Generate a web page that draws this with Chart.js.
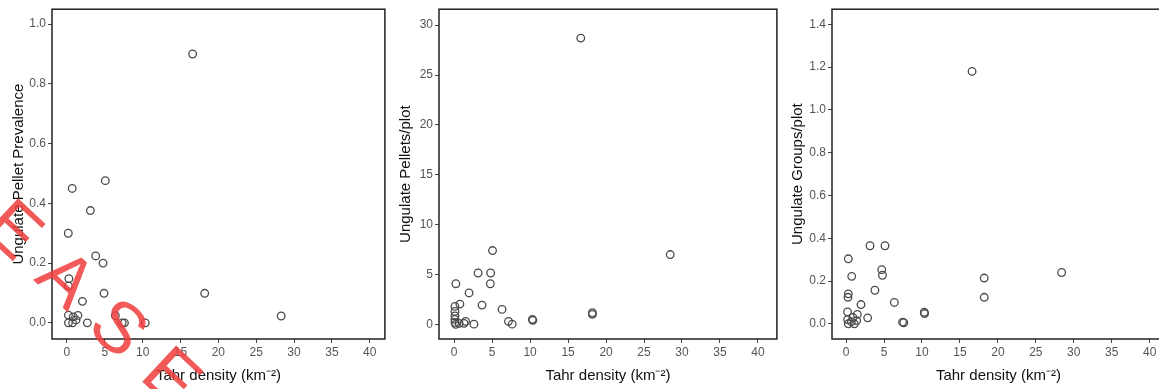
<!DOCTYPE html>
<html><head><meta charset="utf-8">
<script src="https://cdn.jsdelivr.net/npm/chart.js@4.4.1/dist/chart.umd.min.js"></script>
<style>
html,body{margin:0;padding:0;background:#fff;overflow:hidden;width:1159px;height:389px;position:relative}
canvas{position:absolute;top:0}
svg{position:absolute;left:0;top:0;pointer-events:none}
</style></head><body>
<canvas id="c1" width="390" height="389" style="left:0px"></canvas>
<canvas id="c2" width="392" height="389" style="left:390px"></canvas>
<canvas id="c3" width="390" height="389" style="left:780px"></canvas>
<svg width="1159" height="389">
 <g transform="translate(68,277) rotate(43)" font-family="Liberation Sans, Arial, sans-serif" font-size="72" fill="#f03c3c" fill-opacity="0.85" text-anchor="middle">
  <text x="-288" y="26">R</text>
  <text x="-216" y="26">E</text>
  <text x="-144" y="26">L</text>
  <text x="-72" y="26">E</text>
  <text x="0" y="26">A</text>
  <text x="72" y="26">S</text>
  <text x="144" y="26">E</text>
 </g>
</svg>
<script>
// ---- data ----
const xTitle = 'Tahr density (km\u207B\u00B2)';
const xTicks = [0, 5, 10, 15, 20, 25, 30, 35, 40];

const prevTitle = 'Ungulate Pellet Prevalence';
const prevTicks = [0, 0.2, 0.4, 0.6, 0.8, 1.0];
const prevX = [16.6, 0.7, 5.07, 3.1, 0.18, 3.8, 4.77, 0.26, 0.2, 2.05, 4.9, 18.2, 28.3, 0.2, 1.45, 0.83, 0.2, 0.75, 2.7, 6.4, 7.3, 7.6, 10.35, 1.2];
const prevY = [0.90, 0.45, 0.476, 0.376, 0.30, 0.224, 0.20, 0.148, 0.124, 0.072, 0.099, 0.099, 0.023, 0.026, 0.025, 0.02, 0.0, 0.0, 0.0, 0.024, 0.0, 0.0, 0.0, 0.01];

const pelTitle = 'Ungulate Pellets/plot';
const pelTicks = [0, 5, 10, 15, 20, 25, 30];
const pelX = [16.67, 28.45, 5.05, 3.15, 4.8, 4.76, 0.22, 1.96, 3.67, 0.75, 0.1, 0.1, 0.1, 6.3, 18.2, 18.2, 10.3, 10.35, 7.15, 7.64, 2.6, 1.3, 0.65, 0.1, 0.1, 0.2, 1.5];
const pelY = [28.7, 7.0, 7.4, 5.15, 5.15, 4.07, 4.07, 3.15, 1.93, 2.03, 1.8, 1.3, 0.85, 1.5, 1.16, 1.0, 0.5, 0.4, 0.3, 0.02, 0.02, 0.1, 0.1, 0.2, 0.5, 0.0, 0.3];

const grpTitle = 'Ungulate Groups/plot';
const grpTicks = [0, 0.2, 0.4, 0.6, 0.8, 1.0, 1.2, 1.4];
const grpX = [16.6, 28.4, 3.16, 5.13, 0.3, 0.75, 4.7, 4.8, 18.2, 18.2, 3.8, 0.3, 0.25, 1.97, 6.36, 10.3, 10.35, 2.85, 1.49, 7.45, 7.6, 0.2, 0.2, 0.7, 1.1, 1.4, 0.3, 0.9];
const grpY = [1.18, 0.24, 0.365, 0.365, 0.304, 0.222, 0.253, 0.227, 0.214, 0.124, 0.157, 0.14, 0.124, 0.09, 0.10, 0.054, 0.048, 0.028, 0.044, 0.008, 0.005, 0.056, 0.02, 0.01, 0.0, 0.015, 0.0, 0.03];

// ---- drawing ----
const boxPlugin = {
  id: 'box',
  afterDraw(chart) {
    const a = chart.chartArea, ctx = chart.ctx;
    ctx.save();
    ctx.strokeStyle = '#222';
    ctx.lineWidth = 1.5;
    ctx.strokeRect(a.left, a.top, a.right - a.left, a.bottom - a.top);
    ctx.restore();
  }
};

function makeChart(id, xs, ys, yTicks, yRange, xRange, yTitle, decimals, g) {
  const pts = xs.map((x, i) => ({ x: x, y: ys[i] }));
  return new Chart(document.getElementById(id), {
    type: 'scatter',
    data: { datasets: [{ data: pts, pointStyle: 'circle', pointRadius: 3.8, pointHoverRadius: 3.8,
      borderColor: '#4a4a4a', backgroundColor: 'rgba(0,0,0,0)', pointBorderWidth: 1.3 }] },
    plugins: [boxPlugin],
    options: {
      responsive: false, animation: false, devicePixelRatio: 1,
      layout: { padding: { left: 0, top: g.top, right: g.right, bottom: 0 } },
      plugins: { legend: { display: false }, tooltip: { enabled: false } },
      scales: {
        x: {
          type: 'linear', min: xRange[0], max: xRange[1],
          afterBuildTicks: s => { s.ticks = xTicks.map(v => ({ value: v })); },
          afterFit: s => { s.height = 50; },
          grid: { display: true, drawOnChartArea: false, drawTicks: true, tickLength: 4, tickColor: '#444' },
          border: { display: false },
          ticks: { color: '#555', font: { family: 'Liberation Sans, Arial, sans-serif', size: 12 }, padding: 2, maxRotation: 0,
            callback: v => String(v) },
          title: { display: true, text: xTitle, color: '#111', font: { family: 'Liberation Sans, Arial, sans-serif', size: 15 }, padding: { top: 0, bottom: 4 } }
        },
        y: {
          type: 'linear', min: yRange[0], max: yRange[1],
          afterBuildTicks: s => { s.ticks = yTicks.map(v => ({ value: v })); },
          afterFit: s => { s.width = g.yW; },
          grid: { display: true, drawOnChartArea: false, drawTicks: true, tickLength: 4, tickColor: '#444' },
          border: { display: false },
          ticks: { color: '#555', font: { family: 'Liberation Sans, Arial, sans-serif', size: 12 }, padding: 2,
            callback: v => v.toFixed(decimals) },
          title: { display: true, text: yTitle, color: '#111', font: { family: 'Liberation Sans, Arial, sans-serif', size: 15 }, padding: { top: g.tp, bottom: 0 } }
        }
      }
    }
  });
}

makeChart('c1', prevX, prevY, prevTicks, [-0.054, 1.05], [-1.97, 42.0], prevTitle, 1, { yW: 52, top: 9, right: 2, tp: 10 });
makeChart('c2', pelX, pelY, pelTicks, [-1.47, 31.6], [-2.0, 42.5], pelTitle, 0, { yW: 49, top: 7, right: 3, tp: 7 });
makeChart('c3', grpX, grpY, grpTicks, [-0.071, 1.471], [-1.85, 42.0], grpTitle, 1, { yW: 52, top: 7, right: 4, tp: 9 });
</script>
</body></html>
